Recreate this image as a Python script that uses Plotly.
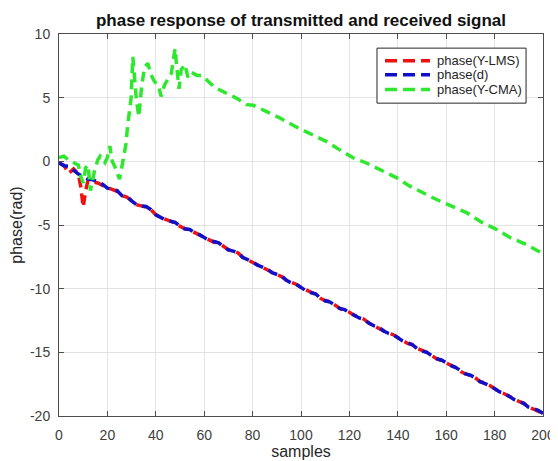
import plotly.graph_objects as go

# ---------------- data ----------------
samples_d = list(range(0, 201, 2))
phase_d = [
    -0.1, -0.35, -0.4, -0.7, -1.0, -1.2, -1.4, -1.45, -1.6, -1.8,
    -2.1, -2.2, -2.3, -2.7, -2.75, -3.1, -3.4, -3.5, -3.55, -3.8,
    -4.2, -4.4, -4.6, -4.7, -4.8, -5.1, -5.3, -5.35, -5.6, -5.75,
    -5.95, -6.2, -6.3, -6.4, -6.7, -6.95, -7.05, -7.2, -7.55, -7.7,
    -7.9, -8.15, -8.3, -8.45, -8.75, -8.9, -9.0, -9.35, -9.55, -9.65,
    -9.9, -10.15, -10.3, -10.4, -10.75, -10.95, -11.05, -11.3, -11.55, -11.65,
    -11.85, -12.1, -12.3, -12.4, -12.7, -12.9, -13.0, -13.3, -13.5, -13.6,
    -13.85, -14.1, -14.25, -14.4, -14.7, -14.9, -15.0, -15.25, -15.5, -15.6,
    -15.85, -16.05, -16.2, -16.45, -16.7, -16.8, -17.0, -17.3, -17.45, -17.6,
    -17.85, -18.1, -18.2, -18.45, -18.7, -18.85, -19.0, -19.3, -19.45, -19.55,
    -19.8,
]

samples_lms = [0, 2, 4, 6, 8, 9, 10, 11, 12, 14, 16, 18] + list(range(20, 201, 2))
phase_lms = [
    -0.15, -0.3, -0.95, -0.6, -1.0, -2.0, -3.6, -2.3, -1.5, -1.6, -1.7, -1.9,
    -2.05, -2.2, -2.35, -2.7, -2.8, -3.1, -3.4, -3.5, -3.6, -3.8,
    -4.2, -4.4, -4.55, -4.7, -4.85, -5.1, -5.3, -5.4, -5.6, -5.75,
    -5.95, -6.2, -6.35, -6.4, -6.7, -6.95, -7.0, -7.2, -7.55, -7.75,
    -7.9, -8.15, -8.3, -8.5, -8.75, -8.9, -9.05, -9.35, -9.5, -9.65,
    -9.9, -10.1, -10.3, -10.45, -10.75, -10.95, -11.0, -11.3, -11.55, -11.7,
    -11.85, -12.1, -12.25, -12.4, -12.7, -12.9, -13.05, -13.3, -13.5, -13.6,
    -13.85, -14.1, -14.3, -14.4, -14.7, -14.85, -15.0, -15.25, -15.5, -15.65,
    -15.85, -16.05, -16.2, -16.5, -16.7, -16.8, -17.0, -17.3, -17.4, -17.6,
    -17.85, -18.1, -18.25, -18.45, -18.7, -18.85, -19.0, -19.3, -19.45, -19.6,
    -19.8,
]

samples_cma = [
    0, 2, 4, 6, 8, 9, 10, 11, 12, 13, 14.5, 16, 17, 19, 20, 21, 22, 23.5, 25,
    26.3, 27.7, 28.3, 29, 29.8, 30.5, 31, 32, 33, 34, 35.3, 36.7, 38, 39.5, 41,
    42.2, 43.6, 45, 46.4, 47.4, 48, 48.5, 49.6, 50.5, 52, 53.3, 54.7, 57, 59,
    61, 64, 66.5, 69, 73.4, 77.5, 80.3, 85.8, 91.3, 98, 103.7, 110.6, 116,
    121.7, 127, 134, 139.6, 145, 150.6, 156, 162, 168.6, 174.8, 180.3, 186.5,
    192.7, 199, 200,
]
phase_cma = [
    0.3, 0.4, 0.1, -0.1, -0.3, -1.2, -1.7, -0.5, -0.3, -2.3, -0.9, 0.1, 0.4, -0.1, 0.3, 1.2, 0.0, -0.6, -1.4,
    -0.1, 1.4, 2.7, 4.0, 5.0, 8.2, 6.9, 4.8, 3.5, 5.6, 7.4, 7.7, 6.8, 6.25, 6.0,
    5.1, 6.0, 6.5, 6.9, 8.2, 8.85, 7.7, 5.7, 7.2, 7.6, 6.6, 7.0, 6.75, 6.75,
    6.4, 5.85, 5.6, 5.35, 4.95, 4.45, 4.4, 3.9, 3.4, 2.7, 2.2, 1.55, 0.9,
    0.26, -0.13, -0.8, -1.3, -1.95, -2.5, -3.0, -3.5, -4.05, -4.8, -5.3, -6.0,
    -6.5, -7.15, -7.3,
]

series_names = ["phase(Y-LMS)", "phase(d)", "phase(Y-CMA)"]
series_colors = ["#ee1111", "#1010c8", "#2ee82e"]

x_ticks = [0, 20, 40, 60, 80, 100, 120, 140, 160, 180, 200]
y_ticks = [-20, -15, -10, -5, 0, 5, 10]

# ---------------- figure ----------------
FONT = "Liberation Sans, Arial, Helvetica, sans-serif"
DASH = "10px,6px"
LW = 3.5

fig = go.Figure()
for xs, ys, name, color in zip([samples_lms, samples_d, samples_cma],
                               [phase_lms, phase_d, phase_cma],
                               series_names, series_colors):
    fig.add_trace(go.Scatter(x=xs, y=ys, mode="lines", name=name, showlegend=False,
                             line=dict(color=color, width=LW, dash=DASH)))

# legend box (MATLAB style: compact rows)
leg_x0, leg_x1, leg_y0, leg_y1 = 0.657, 0.965, 0.819, 0.963
row_y = [0.930, 0.893, 0.855]
fig.add_shape(type="rect", xref="paper", yref="paper", x0=leg_x0, x1=leg_x1, y0=leg_y0, y1=leg_y1,
              line=dict(color="#262626", width=1), fillcolor="white", layer="above")
for name, color, yy in zip(series_names, series_colors, row_y):
    fig.add_shape(type="line", xref="paper", yref="paper", x0=0.6736, x1=0.7665, y0=yy, y1=yy,
                  line=dict(color=color, width=LW, dash="12px,6px"), layer="above")
    fig.add_annotation(xref="paper", yref="paper", x=0.777, y=yy, text=name, showarrow=False,
                       xanchor="left", yanchor="middle",
                       font=dict(family=FONT, size=13, color="#262626"))

axis_common = dict(
    showgrid=True, gridcolor="#e3e3e3", gridwidth=1,
    showline=True, linecolor="#4d4d4d", linewidth=1, mirror="ticks",
    ticks="inside", ticklen=5, tickcolor="#4d4d4d",
    tickfont=dict(family=FONT, size=14, color="#404040"),
    zeroline=False,
)

# note: the page body adds an 8px offset, so the figure is sized 550x453
fig.update_layout(
    width=550, height=453,
    margin=dict(l=51, r=15, t=26, b=45, autoexpand=False),
    paper_bgcolor="white", plot_bgcolor="white",
    font=dict(family=FONT, color="#262626"),
    title=dict(text="<b>phase response of transmitted and received signal</b>",
               x=0.5, xref="paper", xanchor="center",
               y=1 - 12 / 453, yref="container", yanchor="middle",
               font=dict(family=FONT, size=17, color="#111111")),
    xaxis=dict(range=[0, 200], tickvals=x_ticks, ticktext=[str(v) for v in x_ticks],
               title=dict(text="samples", font=dict(family=FONT, size=16, color="#262626"), standoff=3),
               ticklabelstandoff=6, **axis_common),
    yaxis=dict(range=[-20, 10], tickvals=y_ticks, ticktext=[str(v) for v in y_ticks],
               title=dict(text="phase(rad)", font=dict(family=FONT, size=16, color="#262626"), standoff=4),
               ticklabelstandoff=5, **axis_common),
    showlegend=False,
)

fig.write_html("out.html")
